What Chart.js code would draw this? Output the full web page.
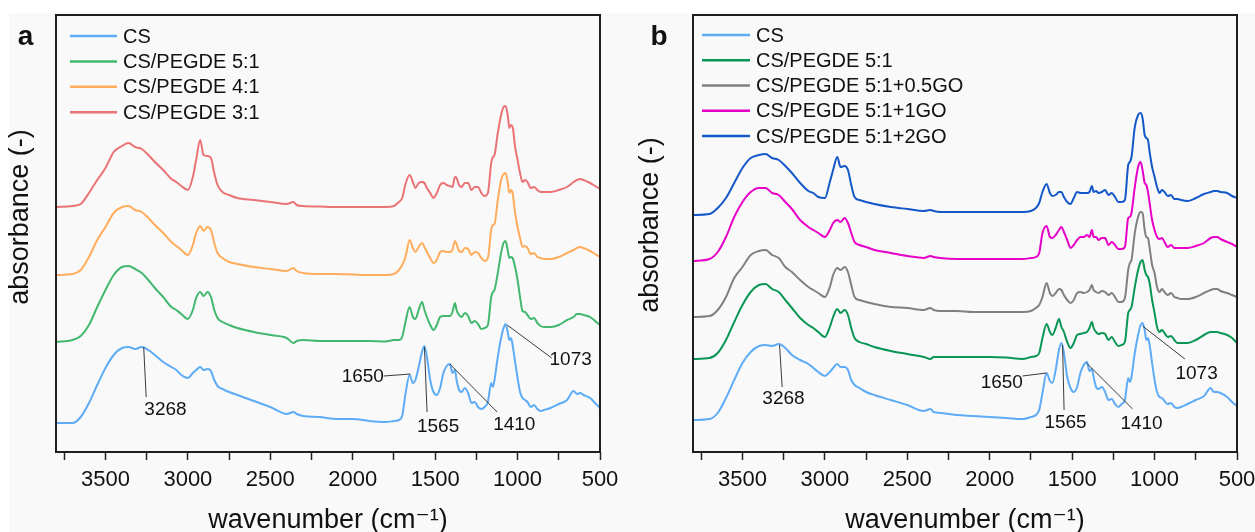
<!DOCTYPE html>
<html><head><meta charset="utf-8">
<script src="https://cdn.jsdelivr.net/npm/chart.js@4.4.1/dist/chart.umd.min.js"></script>
<style>
html,body{margin:0;padding:0;background:#fff;}
#wrap{position:relative;width:1255px;height:532px;overflow:hidden;}
canvas{position:absolute;top:0;}
#ca{left:0}
#cb{left:627px}
</style></head><body>
<div id="wrap"><canvas id="ca" width="627" height="532"></canvas><canvas id="cb" width="628" height="532"></canvas></div>
<script>
// ---------- data ----------
const wavenumber = [3800,3700,3650,3600,3550,3500,3450,3400,3360,3320,3280,3240,3200,3150,3100,3070,3040,3000,
 2970,2950,2925,2905,2880,2860,2840,2820,2790,2750,2700,
 2600,2500,2400,2360,2340,2300,2200,2100,2000,1900,1800,1750,1720,1700,
 1680,1655,1635,1620,1600,1580,1565,1550,1530,1510,1490,1470,1450,1430,1410,1395,1380,1370,1355,1340,1320,1300,1280,1260,1240,1220,1200,1180,1160,1150,1140,1120,1100,1085,1073,1060,1050,1040,1030,1015,1000,
 985,970,955,940,920,900,880,860,840,800,750,700,660,640,620,600,560,530,500];

const tickValues = [500,750,1000,1250,1500,1750,2000,2250,2500,2750,3000,3250,3500,3750];

// panel a
const labelsA = ['CS','CS/PEGDE 5:1','CS/PEGDE 4:1','CS/PEGDE 3:1'];
const csA = [0.29,0.29,0.35,0.49,0.67,0.84,0.97,1.04,1.05,1.03,1.05,1.02,0.97,0.90,0.85,0.82,0.77,0.74,
 0.79,0.82,0.85,0.82,0.83,0.81,0.72,0.66,0.63,0.60,0.57,
 0.51,0.45,0.38,0.40,0.38,0.36,0.35,0.33,0.33,0.31,0.30,0.31,0.32,0.36,
 0.58,0.77,0.69,0.72,0.85,1.00,1.06,0.95,0.72,0.60,0.57,0.64,0.79,0.86,0.88,0.79,0.82,0.72,0.62,0.60,0.64,0.59,0.49,0.50,0.45,0.43,0.45,0.50,0.69,0.65,0.72,0.95,1.14,1.24,1.28,1.20,1.12,1.14,1.07,0.90,0.74,
 0.60,0.54,0.52,0.50,0.45,0.47,0.43,0.41,0.42,0.44,0.48,0.52,0.61,0.58,0.59,0.57,0.54,0.49,0.44];
const pegde51A = [1.10,1.12,1.16,1.27,1.45,1.62,1.77,1.85,1.86,1.83,1.79,1.72,1.64,1.55,1.45,1.42,1.38,1.33,
 1.42,1.54,1.60,1.56,1.60,1.55,1.42,1.34,1.30,1.27,1.24,
 1.20,1.17,1.14,1.09,1.11,1.12,1.11,1.11,1.11,1.11,1.105,1.12,1.12,1.15,
 1.30,1.45,1.35,1.33,1.42,1.50,1.42,1.35,1.27,1.22,1.27,1.35,1.36,1.36,1.36,1.40,1.49,1.42,1.37,1.35,1.39,1.36,1.29,1.31,1.28,1.23,1.24,1.27,1.55,1.60,1.62,1.79,1.99,2.09,2.11,2.02,1.94,1.95,1.94,1.85,1.72,
 1.55,1.41,1.40,1.37,1.33,1.34,1.29,1.26,1.25,1.25,1.27,1.32,1.35,1.38,1.38,1.37,1.35,1.31,1.27];
const pegde41A = [1.77,1.78,1.82,1.95,2.12,2.25,2.39,2.45,2.46,2.42,2.40,2.34,2.27,2.19,2.10,2.06,2.02,1.97,
 2.07,2.19,2.26,2.21,2.25,2.22,2.09,1.99,1.94,1.90,1.88,
 1.85,1.83,1.81,1.84,1.81,1.79,1.78,1.78,1.775,1.77,1.77,1.78,1.82,1.87,
 1.95,2.12,2.04,2.00,2.05,2.09,2.05,2.00,1.94,1.89,1.92,2.00,2.01,2.00,2.00,2.02,2.11,2.08,2.01,2.00,2.04,2.03,1.97,2.00,1.99,1.94,1.91,1.94,2.22,2.27,2.28,2.52,2.72,2.78,2.79,2.70,2.59,2.62,2.59,2.39,2.25,
 2.14,2.05,2.06,2.04,1.98,1.99,1.95,1.94,1.93,1.93,1.95,1.99,2.02,2.04,2.05,2.04,2.01,1.98,1.95];
const pegde31A = [2.45,2.46,2.48,2.59,2.72,2.84,3.00,3.06,3.09,3.05,3.03,2.97,2.90,2.82,2.73,2.70,2.66,2.62,
 2.75,2.92,3.12,2.97,2.96,2.94,2.79,2.67,2.60,2.57,2.54,
 2.52,2.50,2.48,2.50,2.47,2.46,2.455,2.45,2.45,2.45,2.45,2.46,2.50,2.54,
 2.68,2.77,2.70,2.64,2.69,2.70,2.69,2.64,2.59,2.54,2.59,2.67,2.69,2.67,2.66,2.65,2.75,2.74,2.67,2.65,2.69,2.69,2.62,2.65,2.65,2.59,2.56,2.59,2.89,2.95,2.97,3.19,3.37,3.45,3.46,3.37,3.24,3.27,3.25,3.05,2.92,
 2.79,2.70,2.72,2.70,2.64,2.65,2.62,2.60,2.60,2.60,2.62,2.65,2.70,2.72,2.73,2.72,2.69,2.66,2.63];

// panel b
const labelsB = ['CS','CS/PEGDE 5:1','CS/PEGDE 5:1+0.5GO','CS/PEGDE 5:1+1GO','CS/PEGDE 5:1+2GO'];
const csB = [0.32,0.33,0.39,0.54,0.72,0.89,1.00,1.06,1.07,1.06,1.08,1.04,0.97,0.92,0.88,0.84,0.80,0.76,
 0.80,0.84,0.88,0.85,0.85,0.82,0.72,0.67,0.64,0.60,0.57,
 0.52,0.47,0.41,0.43,0.40,0.39,0.37,0.36,0.35,0.34,0.33,0.35,0.37,0.42,
 0.59,0.79,0.71,0.69,0.82,1.02,1.09,0.99,0.75,0.64,0.60,0.65,0.79,0.87,0.90,0.81,0.83,0.75,0.65,0.63,0.65,0.60,0.52,0.53,0.48,0.45,0.48,0.52,0.74,0.70,0.75,0.99,1.17,1.27,1.29,1.22,1.12,1.14,1.07,0.89,0.72,
 0.60,0.55,0.54,0.51,0.48,0.49,0.45,0.44,0.45,0.48,0.52,0.56,0.64,0.60,0.60,0.59,0.55,0.50,0.46];
const pegde51B = [0.93,0.94,0.99,1.12,1.30,1.47,1.60,1.67,1.68,1.63,1.60,1.52,1.44,1.34,1.27,1.24,1.20,1.15,
 1.25,1.35,1.43,1.39,1.42,1.37,1.24,1.14,1.10,1.08,1.05,
 1.01,0.98,0.95,0.93,0.95,0.95,0.95,0.95,0.95,0.945,0.93,0.95,0.96,0.99,
 1.14,1.28,1.20,1.17,1.24,1.33,1.25,1.20,1.10,1.04,1.09,1.17,1.18,1.19,1.20,1.24,1.30,1.24,1.20,1.18,1.19,1.18,1.12,1.15,1.10,1.06,1.07,1.10,1.39,1.42,1.45,1.65,1.82,1.90,1.92,1.82,1.77,1.75,1.69,1.52,1.39,
 1.25,1.20,1.22,1.19,1.15,1.16,1.12,1.09,1.09,1.09,1.12,1.17,1.20,1.20,1.20,1.19,1.17,1.14,1.09];
const go05B = [1.35,1.36,1.42,1.55,1.74,1.85,1.97,2.01,2.02,1.97,1.94,1.85,1.80,1.72,1.65,1.62,1.59,1.55,
 1.65,1.77,1.84,1.82,1.85,1.80,1.67,1.55,1.52,1.50,1.48,
 1.45,1.44,1.42,1.44,1.42,1.41,1.41,1.40,1.40,1.40,1.40,1.41,1.44,1.47,
 1.55,1.69,1.59,1.56,1.59,1.63,1.62,1.57,1.52,1.49,1.52,1.59,1.60,1.59,1.60,1.62,1.67,1.62,1.60,1.59,1.61,1.60,1.57,1.59,1.55,1.50,1.50,1.54,1.82,1.89,1.92,2.19,2.35,2.40,2.39,2.22,2.15,2.14,2.04,1.87,1.79,
 1.65,1.60,1.63,1.60,1.57,1.59,1.55,1.54,1.53,1.53,1.55,1.59,1.62,1.63,1.63,1.61,1.59,1.57,1.55];
const go1B = [1.91,1.93,2.00,2.15,2.35,2.50,2.60,2.64,2.64,2.59,2.57,2.50,2.43,2.32,2.25,2.22,2.19,2.15,
 2.22,2.29,2.32,2.30,2.34,2.29,2.19,2.10,2.07,2.05,2.02,
 1.99,1.96,1.94,1.96,1.95,1.94,1.93,1.93,1.93,1.93,1.93,1.94,1.95,1.99,
 2.19,2.26,2.15,2.14,2.17,2.22,2.25,2.20,2.12,2.04,2.07,2.12,2.15,2.15,2.17,2.15,2.22,2.15,2.15,2.12,2.14,2.14,2.07,2.10,2.07,2.03,2.03,2.05,2.34,2.35,2.39,2.65,2.85,2.90,2.82,2.69,2.67,2.60,2.49,2.32,2.22,
 2.15,2.13,2.14,2.10,2.05,2.07,2.04,2.04,2.04,2.04,2.06,2.09,2.14,2.15,2.15,2.13,2.10,2.08,2.05];
const go2B = [2.37,2.38,2.44,2.54,2.69,2.84,2.94,2.97,2.98,2.94,2.92,2.86,2.79,2.69,2.61,2.59,2.55,2.54,
 2.70,2.82,2.95,2.85,2.86,2.82,2.67,2.55,2.52,2.50,2.48,
 2.45,2.43,2.41,2.42,2.41,2.40,2.40,2.40,2.40,2.40,2.40,2.41,2.44,2.49,
 2.60,2.68,2.59,2.56,2.57,2.60,2.60,2.55,2.50,2.48,2.54,2.60,2.59,2.59,2.59,2.60,2.66,2.60,2.61,2.59,2.60,2.62,2.57,2.59,2.55,2.50,2.50,2.52,2.87,2.90,2.95,3.25,3.37,3.39,3.34,3.17,3.14,3.12,3.00,2.85,2.75,
 2.65,2.59,2.62,2.60,2.56,2.57,2.53,2.53,2.52,2.51,2.54,2.58,2.60,2.61,2.61,2.60,2.59,2.56,2.54];

// peak annotations: [wavenumber, absorbance] of leader line ends and label centre
const notesA = [
 {label:'3268', from:[3268,1.05], to:[3253,0.55], at:[3136,0.42]},
 {label:'1650', from:[1650,0.78], to:[1812,0.76], at:[1939,0.75]},
 {label:'1565', from:[1565,1.05], to:[1549,0.40], at:[1482,0.25]},
 {label:'1410', from:[1411,0.88], to:[1124,0.40], at:[1020,0.27]},
 {label:'1073', from:[1063,1.27], to:[793,0.94],  at:[678,0.92]}
];
const notesB = [
 {label:'3268', from:[3275,1.07], to:[3259,0.65], at:[3251,0.53]},
 {label:'1650', from:[1656,0.79], to:[1801,0.76], at:[1927,0.69]},
 {label:'1565', from:[1558,1.07], to:[1549,0.42], at:[1540,0.29]},
 {label:'1410', from:[1413,0.89], to:[1133,0.43], at:[1079,0.28]},
 {label:'1073', from:[1073,1.26], to:[816,0.93],  at:[745,0.78]}
];

// ---------- rendering ----------
const FONT = '"Liberation Sans", Arial, "DejaVu Sans", sans-serif';
const toXY = arr => arr.map((v,i)=>({x:wavenumber[i], y:v}));

const figurePlugin = {
  id:'figure',
  beforeDraw(chart, args, o){
    const {ctx, width, height} = chart;
    ctx.save();
    ctx.fillStyle = '#ffffff'; ctx.fillRect(0,0,width,height);
    ctx.fillStyle = '#f9f9f9'; ctx.fillRect(o.bgLeft, 13, width - o.bgLeft, height - 13);
    ctx.restore();
  },
  afterDatasetsDraw(chart, args, o){
    const {ctx, chartArea:a} = chart;
    const x = chart.scales.x, y = chart.scales.y;
    ctx.save();
    // leader lines + labels
    ctx.strokeStyle = '#3a3a3a'; ctx.lineWidth = 1;
    ctx.font = '19px ' + FONT; ctx.fillStyle = '#111'; ctx.textAlign = 'center'; ctx.textBaseline = 'middle';
    o.notes.forEach(n => {
      ctx.beginPath();
      ctx.moveTo(x.getPixelForValue(n.from[0]), y.getPixelForValue(n.from[1]));
      ctx.lineTo(x.getPixelForValue(n.to[0]), y.getPixelForValue(n.to[1]));
      ctx.stroke();
      ctx.fillText(n.label, x.getPixelForValue(n.at[0]), y.getPixelForValue(n.at[1]));
    });
    // frame
    ctx.strokeStyle = '#1e1e1e'; ctx.lineWidth = 2;
    ctx.strokeRect(a.left, a.top, a.right - a.left, a.bottom - a.top);
    // legend
    ctx.font = '20px ' + FONT; ctx.textAlign = 'left'; ctx.textBaseline = 'middle';
    chart.data.datasets.forEach((d,i) => {
      const yy = a.top + o.legTop + i * o.legStep;
      ctx.strokeStyle = d.borderColor; ctx.lineWidth = 2.5;
      ctx.beginPath(); ctx.moveTo(a.left + o.legX0, yy); ctx.lineTo(a.left + o.legX1, yy); ctx.stroke();
      ctx.fillStyle = '#111';
      ctx.fillText(d.label, a.left + o.legX1 + 6, yy + 1);
    });
    // y title
    ctx.save();
    ctx.translate(o.yTitleX, o.yTitleY); ctx.rotate(-Math.PI/2);
    ctx.font = '27px ' + FONT; ctx.textAlign = 'center'; ctx.textBaseline = 'middle'; ctx.fillStyle = '#111';
    ctx.fillText('absorbance (-)', 0, 0);
    ctx.restore();
    // panel letter
    ctx.font = 'bold 28px ' + FONT; ctx.textAlign = 'center'; ctx.textBaseline = 'alphabetic'; ctx.fillStyle = '#111';
    ctx.fillText(o.letter, o.letterX, 45);
    ctx.restore();
  }
};

function makeChart(id, datasets, cfg){
  return new Chart(document.getElementById(id), {
    type:'line',
    data:{ datasets: datasets.map(d => ({
      label:d.label, data:toXY(d.values), borderColor:d.color, borderWidth:2,
      pointRadius:0, fill:false, cubicInterpolationMode:'monotone'
    }))},
    options:{
      responsive:false, animation:false, devicePixelRatio:1,
      layout:{padding:{left:0, top:15, right:cfg.padRight, bottom:0}},
      plugins:{ legend:{display:false}, tooltip:{enabled:false},
        figure:{bgLeft:cfg.bgLeft, notes:cfg.notes, legTop:cfg.legTop, legStep:cfg.legStep,
          legX0:cfg.legX0, legX1:cfg.legX1, yTitleX:cfg.yTitleX, yTitleY:cfg.yTitleY,
          letter:cfg.letter, letterX:cfg.letterX} },
      scales:{
        x:{ type:'linear', reverse:true, min:500, max:3800,
          afterBuildTicks(s){ s.ticks = tickValues.map(v => ({value:v})); },
          afterFit(s){ s.height = 80; },
          ticks:{ autoSkip:false, maxRotation:0, minRotation:0, padding:7, color:'#111',
            font:{family:FONT, size:22}, callback:(v) => (v % 500 === 0 ? String(v) : '') },
          grid:{ display:true, drawOnChartArea:false, drawTicks:true, tickLength:8, tickWidth:1.5, tickColor:'#222' },
          border:{ display:false },
          title:{ display:true, text:'wavenumber (cm⁻¹)', color:'#111',
            font:{family:FONT, size:27, lineHeight:1}, padding:{top:0, bottom:-2} }
        },
        y:{ min:0, max:4.37, ticks:{display:false}, grid:{display:false}, border:{display:false},
          afterFit(s){ s.width = cfg.leftWidth; } }
      }
    },
    plugins:[figurePlugin]
  });
}

makeChart('ca', [
  {label:labelsA[0], values:csA, color:'#5eacf5'},
  {label:labelsA[1], values:pegde51A, color:'#42b86e'},
  {label:labelsA[2], values:pegde41A, color:'#ffad5c'},
  {label:labelsA[3], values:pegde31A, color:'#ea7376'}
], {padRight:27, leftWidth:56, bgLeft:9, notes:notesA, legTop:21, legStep:25.4, legX0:14, legX1:61,
    yTitleX:21, yTitleY:217, letter:'a', letterX:25.5});

makeChart('cb', [
  {label:labelsB[0], values:csB, color:'#5eacf5'},
  {label:labelsB[1], values:pegde51B, color:'#0a9655'},
  {label:labelsB[2], values:go05B, color:'#808080'},
  {label:labelsB[3], values:go1B, color:'#e600c8'},
  {label:labelsB[4], values:go2B, color:'#1457c8'}
], {padRight:18, leftWidth:66, bgLeft:0, notes:notesB, legTop:20, legStep:25.25, legX0:9, legX1:57,
    yTitleX:24, yTitleY:225, letter:'b', letterX:32});
</script>
</body></html>
